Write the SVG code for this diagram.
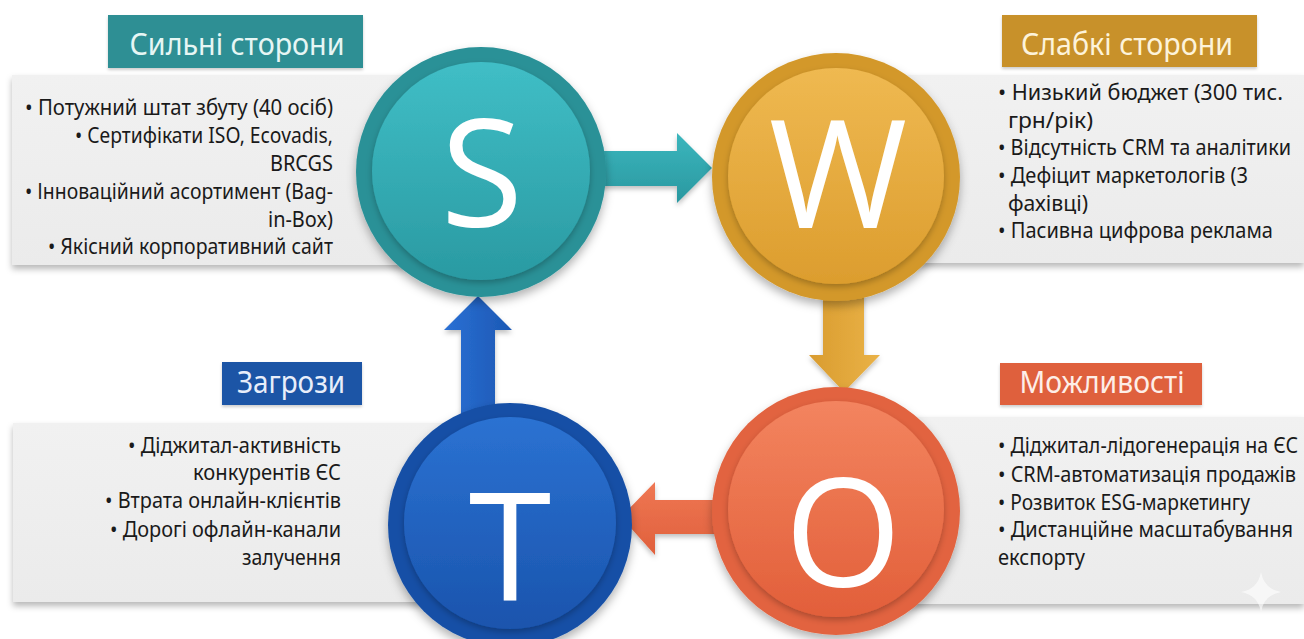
<svg xmlns="http://www.w3.org/2000/svg" width="1304" height="639" viewBox="0 0 1304 639">
  <defs>
    <style>
      .panel { fill: url(#panelFill); filter: url(#panelShadow); }
      .item { font-family: "Noto Sans", "Open Sans", sans-serif; font-size: 21px; fill: #1a1a1a; }
      .end { text-anchor: end; }
      .title { font-family: "Noto Sans", "Open Sans", sans-serif; font-size: 30px; text-anchor: middle; }
      .letter { font-family: "Open Sans", "Noto Sans", sans-serif; font-size: 150px; font-weight: 500; fill: #ffffff; text-anchor: middle; }
      .tag { filter: url(#tagShadow); }
      .disc { filter: url(#discShadow); }
    </style>
    <linearGradient id="panelFill" x1="0" y1="0" x2="0" y2="1">
      <stop offset="0" stop-color="#f1f1f1"/>
      <stop offset="1" stop-color="#ebebeb"/>
    </linearGradient>
    <filter id="panelShadow" x="-5%" y="-10%" width="110%" height="125%">
      <feDropShadow dx="0" dy="4" stdDeviation="3" flood-color="#000" flood-opacity="0.28"/>
    </filter>
    <filter id="tagShadow" x="-10%" y="-20%" width="120%" height="150%">
      <feDropShadow dx="0" dy="2" stdDeviation="1.5" flood-color="#000" flood-opacity="0.2"/>
    </filter>
    <filter id="discShadow" x="-20%" y="-20%" width="140%" height="140%">
      <feDropShadow dx="0" dy="5" stdDeviation="5" flood-color="#000" flood-opacity="0.3"/>
    </filter>
    <filter id="innerShadow" x="-10%" y="-10%" width="120%" height="125%">
      <feDropShadow dx="0" dy="3" stdDeviation="3" flood-color="#000" flood-opacity="0.25"/>
    </filter>
    <filter id="arrowShadow" x="-20%" y="-20%" width="140%" height="150%">
      <feDropShadow dx="0" dy="3" stdDeviation="2.5" flood-color="#000" flood-opacity="0.25"/>
    </filter>
    <!-- disc fills -->
    <linearGradient id="tealIn" x1="0" y1="0" x2="0" y2="1">
      <stop offset="0" stop-color="#40bec6"/>
      <stop offset="1" stop-color="#2a9aa2"/>
    </linearGradient>
    <linearGradient id="goldIn" x1="0" y1="0" x2="0" y2="1">
      <stop offset="0" stop-color="#efb951"/>
      <stop offset="1" stop-color="#dc9d2e"/>
    </linearGradient>
    <linearGradient id="blueIn" x1="0" y1="0" x2="0" y2="1">
      <stop offset="0" stop-color="#2b72d2"/>
      <stop offset="1" stop-color="#1a54ad"/>
    </linearGradient>
    <linearGradient id="orangeIn" x1="0" y1="0" x2="0" y2="1">
      <stop offset="0" stop-color="#f3845f"/>
      <stop offset="1" stop-color="#e25f3a"/>
    </linearGradient>
    <!-- arrow fills -->
    <linearGradient id="tealArrow" x1="0" y1="0" x2="0" y2="1">
      <stop offset="0" stop-color="#3bb6bd"/>
      <stop offset="1" stop-color="#2a98a0"/>
    </linearGradient>
    <linearGradient id="goldArrow" x1="0" y1="0" x2="1" y2="0">
      <stop offset="0" stop-color="#d99c2f"/>
      <stop offset="1" stop-color="#eab247"/>
    </linearGradient>
    <linearGradient id="orangeArrow" x1="0" y1="0" x2="0" y2="1">
      <stop offset="0" stop-color="#ef7753"/>
      <stop offset="1" stop-color="#e0603c"/>
    </linearGradient>
    <linearGradient id="blueArrow" x1="0" y1="0" x2="1" y2="0">
      <stop offset="0" stop-color="#2a70d4"/>
      <stop offset="1" stop-color="#1c58b4"/>
    </linearGradient>
  </defs>

  <rect width="1304" height="639" fill="#ffffff"/>

  <!-- text panels -->
  <g id="panels">
    <rect class="panel" x="12" y="75" width="400" height="190"/>
    <rect class="panel" x="820" y="75" width="484" height="188"/>
    <rect class="panel" x="13" y="423" width="507" height="179"/>
    <rect class="panel" x="820" y="417" width="484" height="187"/>
  </g>

  <!-- connectors between the four quadrants -->
  <g id="connectors" filter="url(#arrowShadow)">
    <polygon points="596,151 677,151 677,133 712,168 677,203 677,186 596,186" fill="url(#tealArrow)"/>
    <polygon points="823,285 864,285 864,355 880,355 844,392 809,355 823,355" fill="url(#goldArrow)"/>
    <polygon points="725,500 655,500 655,482 621,517 655,555 655,534 725,534" fill="url(#orangeArrow)"/>
    <polygon points="461,415 461,330 444,330 478,296 512,330 495,330 495,415" fill="url(#blueArrow)"/>
  </g>

  <!-- Strengths -->
  <g id="node-s">
    <rect class="tag" x="108" y="15" width="255" height="53" fill="#2d8f94"/>
    <text class="title" x="237" y="55" fill="#e6f6f4" textLength="215" lengthAdjust="spacingAndGlyphs">Сильні сторони</text>
    <g class="item end">
      <text x="333" y="115" textLength="308" lengthAdjust="spacingAndGlyphs">• Потужний штат збуту (40 осіб)</text>
      <text x="333" y="143" textLength="258" lengthAdjust="spacingAndGlyphs">• Сертифікати ISO, Ecovadis,</text>
      <text x="333" y="171" textLength="63" lengthAdjust="spacingAndGlyphs">BRCGS</text>
      <text x="333" y="199" textLength="308" lengthAdjust="spacingAndGlyphs">• Інноваційний асортимент (Bag-</text>
      <text x="333" y="227" textLength="65" lengthAdjust="spacingAndGlyphs">in-Box)</text>
      <text x="333" y="254" textLength="285" lengthAdjust="spacingAndGlyphs">• Якісний корпоративний сайт</text>
    </g>
    <circle class="disc" cx="481" cy="172" r="125" fill="#2a9197"/>
    <circle cx="481" cy="171" r="109" fill="url(#tealIn)" filter="url(#innerShadow)"/>
    <text class="letter" x="482" y="227">S</text>
  </g>

  <!-- Weaknesses -->
  <g id="node-w">
    <rect class="tag" x="1002" y="15" width="255" height="52" fill="#c8912b"/>
    <text class="title" x="1127" y="55" fill="#fdf3da" textLength="212" lengthAdjust="spacingAndGlyphs">Слабкі сторони</text>
    <g class="item">
      <text x="998" y="100" textLength="285" lengthAdjust="spacingAndGlyphs">• Низький бюджет (300 тис.</text>
      <text x="1008" y="128" textLength="85" lengthAdjust="spacingAndGlyphs">грн/рік)</text>
      <text x="998" y="155" textLength="293" lengthAdjust="spacingAndGlyphs">• Відсутність CRM та аналітики</text>
      <text x="998" y="183" textLength="250" lengthAdjust="spacingAndGlyphs">• Дефіцит маркетологів (3</text>
      <text x="1008" y="211" textLength="80" lengthAdjust="spacingAndGlyphs">фахівці)</text>
      <text x="998" y="238" textLength="275" lengthAdjust="spacingAndGlyphs">• Пасивна цифрова реклама</text>
    </g>
    <circle class="disc" cx="836" cy="177" r="124" fill="#d3982a"/>
    <circle cx="836" cy="176" r="108" fill="url(#goldIn)" filter="url(#innerShadow)"/>
    <text class="letter" x="838" y="228">W</text>
  </g>

  <!-- Threats -->
  <g id="node-t">
    <rect class="tag" x="222" y="362" width="140" height="43" fill="#1b55a6"/>
    <text class="title" x="291" y="393" fill="#e8eefa" textLength="108" lengthAdjust="spacingAndGlyphs">Загрози</text>
    <g class="item end">
      <text x="341" y="453" textLength="213" lengthAdjust="spacingAndGlyphs">• Діджитал-активність</text>
      <text x="341" y="480" textLength="148" lengthAdjust="spacingAndGlyphs">конкурентів ЄС</text>
      <text x="341" y="508" textLength="236" lengthAdjust="spacingAndGlyphs">• Втрата онлайн-клієнтів</text>
      <text x="341" y="537" textLength="231" lengthAdjust="spacingAndGlyphs">• Дорогі офлайн-канали</text>
      <text x="341" y="565" textLength="99" lengthAdjust="spacingAndGlyphs">залучення</text>
    </g>
    <circle class="disc" cx="510" cy="525" r="122" fill="#1650a6"/>
    <circle cx="510" cy="523" r="106" fill="url(#blueIn)" filter="url(#innerShadow)"/>
    <text class="letter" x="510" y="600">T</text>
  </g>

  <!-- Opportunities -->
  <g id="node-o">
    <rect class="tag" x="1000" y="363" width="202" height="42" fill="#df613e"/>
    <text class="title" x="1102" y="393" fill="#fdeee8" textLength="165" lengthAdjust="spacingAndGlyphs">Можливості</text>
    <g class="item">
      <text x="998" y="453" textLength="300" lengthAdjust="spacingAndGlyphs">• Діджитал-лідогенерація на ЄС</text>
      <text x="998" y="482" textLength="298" lengthAdjust="spacingAndGlyphs">• CRM-автоматизація продажів</text>
      <text x="998" y="510" textLength="252" lengthAdjust="spacingAndGlyphs">• Розвиток ESG-маркетингу</text>
      <text x="998" y="537" textLength="295" lengthAdjust="spacingAndGlyphs">• Дистанційне масштабування</text>
      <text x="998" y="565" textLength="87" lengthAdjust="spacingAndGlyphs">експорту</text>
    </g>
    <circle class="disc" cx="836" cy="511" r="124" fill="#e2633f"/>
    <circle cx="836" cy="509" r="108" fill="url(#orangeIn)" filter="url(#innerShadow)"/>
    <text class="letter" x="843" y="587">O</text>
  </g>

  <!-- faint sparkle in the lower right corner -->
  <path d="M1261,572 Q1264,589 1281,592 Q1264,595 1261,612 Q1258,595 1241,592 Q1258,589 1261,572 Z" fill="#ffffff" opacity="0.6"/>
</svg>
